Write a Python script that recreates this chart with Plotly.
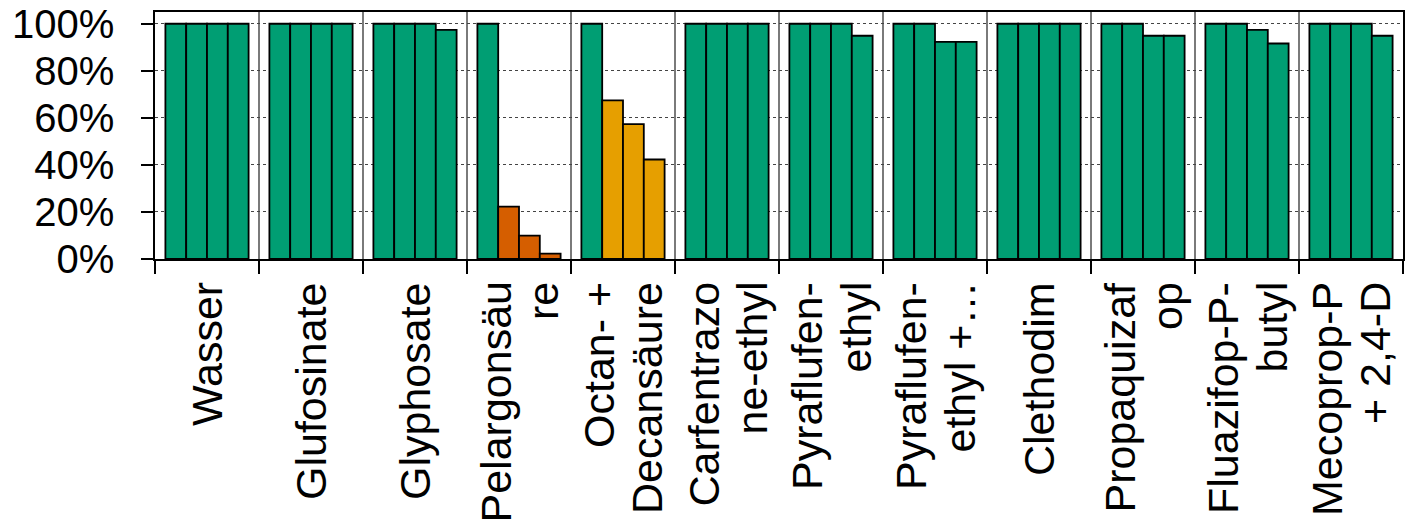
import plotly.graph_objects as go

categories = [
    "Wasser", "Glufosinate", "Glyphosate", "Pelargonsäure",
    "Octan- + Decansäure", "Carfentrazone-ethyl", "Pyraflufen-ethyl",
    "Pyraflufen-ethyl +…", "Clethodim", "Propaquizafop",
    "Fluazifop-P-butyl", "Mecoprop-P + 2,4-D",
]
# category labels as they are wrapped in the chart
category_labels = [
    ["Wasser"], ["Glufosinate"], ["Glyphosate"], ["Pelargonsäu", "re"],
    ["Octan- +", "Decansäure"], ["Carfentrazo", "ne-ethyl"], ["Pyraflufen-", "ethyl"],
    ["Pyraflufen-", "ethyl +…"], ["Clethodim"], ["Propaquizaf", "op"],
    ["Fluazifop-P-", "butyl"], ["Mecoprop-P", "+ 2,4-D"],
]

series_1 = [1.00, 1.00, 1.00, 1.00, 1.00, 1.00, 1.00, 1.00, 1.00, 1.00, 1.00, 1.00]
series_2 = [1.00, 1.00, 1.00, 0.223, 0.674, 1.00, 1.00, 1.00, 1.00, 1.00, 1.00, 1.00]
series_3 = [1.00, 1.00, 1.00, 0.099, 0.573, 1.00, 1.00, 0.923, 1.00, 0.949, 0.974, 1.00]
series_4 = [1.00, 1.00, 0.974, 0.023, 0.423, 1.00, 0.949, 0.923, 1.00, 0.949, 0.916, 0.949]

y_ticks = [0, 0.2, 0.4, 0.6, 0.8, 1.0]
y_tick_labels = ["0%", "20%", "40%", "60%", "80%", "100%"]

GREEN = "#009E73"
highlight = {3: "#D55E00", 4: "#E69F00"}  # category index -> colour for series 2-4

FONT = "Liberation Sans, Arial, sans-serif"
LABEL_SIZE = 43
LINE_STEP = 48

fig = go.Figure()
for i, vals in enumerate([series_1, series_2, series_3, series_4]):
    colors = [GREEN if i == 0 else highlight.get(k, GREEN) for k in range(len(categories))]
    fig.add_trace(go.Bar(
        x=categories, y=vals, name=f"Serie {i+1}",
        marker=dict(color=colors, line=dict(color="black", width=1.8)),
    ))

annotations = []
for cat, lines in zip(categories, category_labels):
    n = len(lines)
    for k, line in enumerate(lines):
        annotations.append(dict(
            x=cat, xref="x", y=0, yref="paper",
            text=line, showarrow=False, textangle=-90,
            xanchor="center", yanchor="top",
            xshift=(k - (n - 1) / 2) * LINE_STEP, yshift=-21,
            font=dict(size=LABEL_SIZE, family=FONT, color="black"),
        ))

fig.update_layout(
    width=1410, height=525,
    margin=dict(l=155, r=7, t=12, b=266, autoexpand=False),
    paper_bgcolor="white", plot_bgcolor="white",
    barmode="group", bargap=0.2, bargroupgap=0,
    showlegend=False,
    font=dict(family=FONT, color="black"),
    annotations=annotations,
    xaxis=dict(
        type="category", tickson="boundaries", showticklabels=False,
        ticks="outside", ticklen=13, tickwidth=1.5, tickcolor="black",
        showgrid=True, gridcolor="#7a7a7a", gridwidth=1.5,
        showline=True, linecolor="black", linewidth=2, mirror=True,
        automargin=False,
    ),
    yaxis=dict(
        range=[0, 1.05], tickvals=y_ticks, ticktext=y_tick_labels,
        tickfont=dict(size=40, family=FONT, color="black"),
        ticks="outside", ticklen=12, tickwidth=1.5, tickcolor="black",
        showgrid=True, gridcolor="#444444", gridwidth=1, griddash="dot",
        showline=True, linecolor="black", linewidth=1.5, mirror=True,
        zeroline=False, ticklabelstandoff=19, automargin=False,
        ticklabeloverflow="allow",
    ),
)

fig.write_html(
    "out.html",
    config={"displayModeBar": False},
    post_script="document.body.style.margin='0';",
)
